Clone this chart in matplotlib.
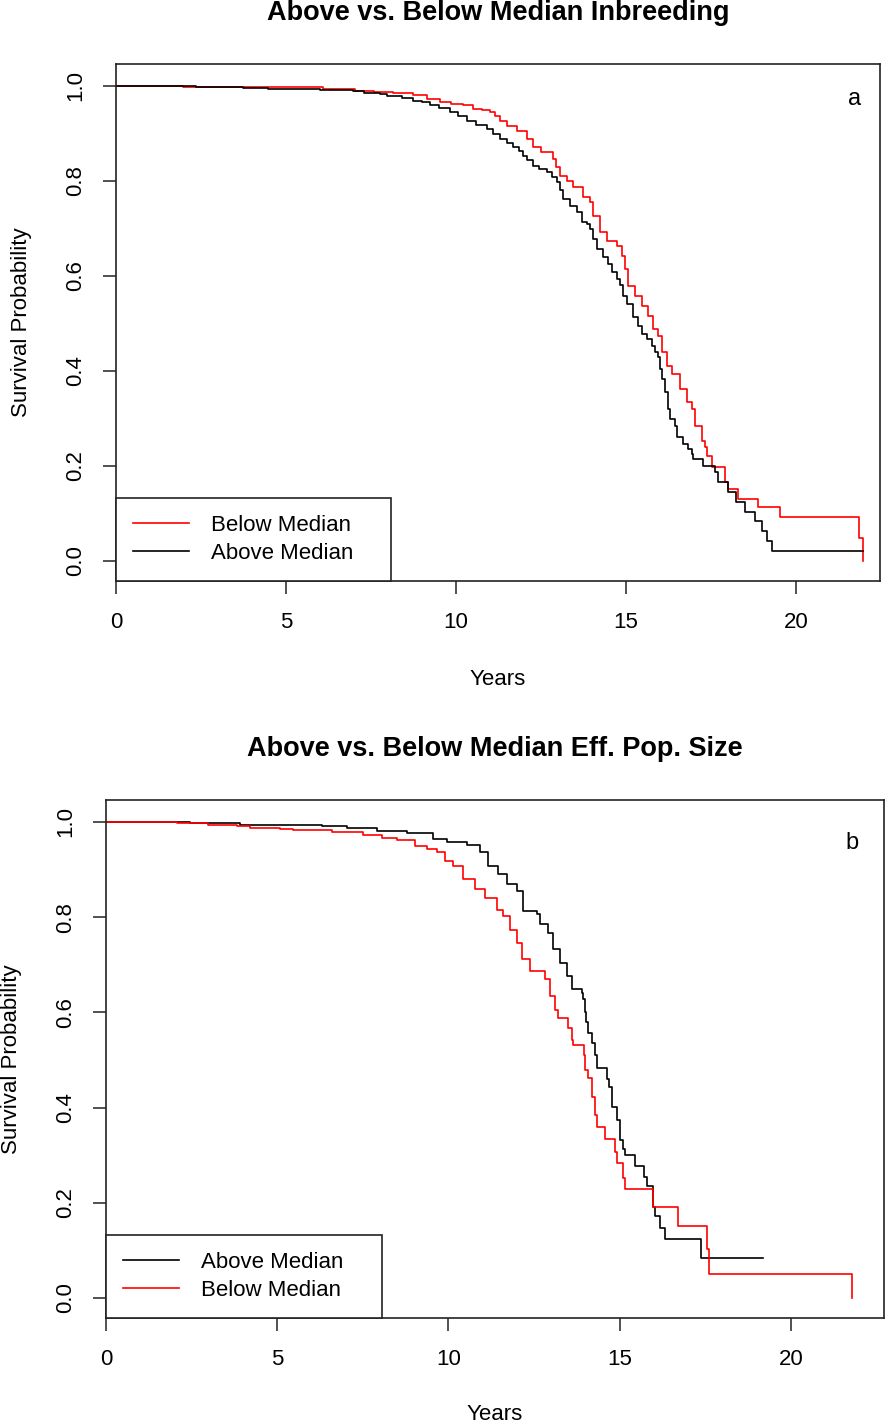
import matplotlib
matplotlib.use("Agg")
import matplotlib.pyplot as plt

plt.rcParams["font.family"] = ["Liberation Sans", "DejaVu Sans"]

# panel a: inbreeding
inb_below_t = [0, 1.97, 4.53, 6.09, 7.03, 7.6, 8.15, 8.74, 9.15, 9.53, 9.85, 10.2, 10.5,
               10.75, 11.0, 11.15, 11.29, 11.5, 11.8, 12.09, 12.26, 12.5, 12.85, 12.95,
               13.06, 13.25, 13.44, 13.74, 13.94, 14.03, 14.24, 14.44, 14.74, 14.88, 14.97,
               15.06, 15.26, 15.47, 15.65, 15.79, 15.94, 16.06, 16.21, 16.35, 16.59, 16.79,
               16.95, 17.03, 17.24, 17.33, 17.38, 17.52, 17.91, 18.01, 18.3, 18.89, 19.53,
               21.86, 21.98]
inb_below_s = [1.0, 0.998, 0.997, 0.994, 0.989, 0.987, 0.985, 0.98, 0.973, 0.966, 0.962,
               0.959, 0.952, 0.949, 0.945, 0.936, 0.927, 0.916, 0.906, 0.888, 0.871, 0.86,
               0.846, 0.83, 0.811, 0.8, 0.787, 0.766, 0.755, 0.726, 0.693, 0.674, 0.663,
               0.642, 0.615, 0.579, 0.558, 0.537, 0.516, 0.488, 0.474, 0.44, 0.411, 0.394,
               0.362, 0.335, 0.32, 0.284, 0.253, 0.24, 0.221, 0.197, 0.166, 0.152, 0.131,
               0.114, 0.093, 0.048, 0.0]

inb_above_t = [0, 2.35, 3.74, 4.47, 6.0, 6.97, 7.3, 7.75, 7.97, 8.4, 8.74, 9.0, 9.24, 9.5,
               9.82, 10.05, 10.32, 10.6, 10.91, 11.1, 11.29, 11.5, 11.68, 11.85, 11.97, 12.1,
               12.26, 12.45, 12.68, 12.82, 12.97, 13.07, 13.16, 13.35, 13.55, 13.7, 13.84,
               13.94, 14.04, 14.14, 14.33, 14.48, 14.58, 14.73, 14.82, 14.92, 15.02, 15.22,
               15.36, 15.46, 15.61, 15.76, 15.85, 15.95, 16.0, 16.05, 16.15, 16.24, 16.29,
               16.44, 16.49, 16.69, 16.83, 16.93, 16.98, 17.27, 17.62, 17.71, 18.01, 18.24,
               18.5, 18.79, 18.99, 19.14, 19.29, 21.98]
inb_above_s = [1.0, 0.998, 0.996, 0.993, 0.991, 0.989, 0.986, 0.982, 0.978, 0.974, 0.969,
               0.965, 0.959, 0.953, 0.945, 0.937, 0.926, 0.918, 0.909, 0.899, 0.888, 0.879,
               0.871, 0.862, 0.853, 0.843, 0.832, 0.826, 0.819, 0.809, 0.798, 0.78, 0.762,
               0.748, 0.734, 0.713, 0.709, 0.699, 0.678, 0.657, 0.639, 0.625, 0.608, 0.594,
               0.58, 0.558, 0.541, 0.513, 0.495, 0.478, 0.467, 0.453, 0.439, 0.429, 0.405,
               0.383, 0.355, 0.32, 0.299, 0.285, 0.26, 0.246, 0.236, 0.225, 0.215, 0.2,
               0.187, 0.166, 0.145, 0.124, 0.103, 0.085, 0.064, 0.043, 0.021, 0.021]

# panel b: effective population size
ne_above_t = [0, 2.45, 3.91, 6.3, 7.04, 7.91, 8.79, 9.55, 9.96, 10.54, 10.92, 11.15, 11.45,
              11.71, 12.0, 12.18, 12.58, 12.67, 12.9, 13.05, 13.26, 13.46, 13.61, 13.9,
              13.93, 13.99, 14.02, 14.07, 14.19, 14.28, 14.34, 14.63, 14.68, 14.77, 14.92,
              15.01, 15.1, 15.15, 15.45, 15.72, 15.79, 15.98, 16.03, 16.18, 16.32, 17.39,
              19.19]
ne_above_s = [1.0, 0.997, 0.993, 0.991, 0.987, 0.98, 0.976, 0.964, 0.957, 0.952, 0.936,
              0.908, 0.89, 0.869, 0.855, 0.813, 0.806, 0.785, 0.767, 0.732, 0.704, 0.676,
              0.648, 0.641, 0.627, 0.6, 0.58, 0.557, 0.535, 0.511, 0.483, 0.46, 0.443,
              0.401, 0.373, 0.331, 0.314, 0.3, 0.278, 0.254, 0.235, 0.192, 0.173, 0.148,
              0.124, 0.084, 0.084]

ne_below_t = [0, 2.07, 2.98, 3.82, 4.2, 5.08, 5.46, 6.6, 7.5, 8.06, 8.5, 9.02, 9.37, 9.66,
              9.9, 10.13, 10.42, 10.77, 11.07, 11.42, 11.59, 11.8, 12.0, 12.15, 12.38,
              12.82, 12.96, 13.11, 13.2, 13.49, 13.61, 13.64, 13.95, 13.99, 14.07, 14.19,
              14.28, 14.34, 14.57, 14.86, 14.92, 15.09, 15.15, 15.97, 16.7, 17.55, 17.61,
              21.78]
ne_below_s = [1.0, 0.997, 0.994, 0.991, 0.988, 0.985, 0.982, 0.978, 0.973, 0.966, 0.961,
              0.95, 0.943, 0.936, 0.918, 0.908, 0.88, 0.859, 0.841, 0.816, 0.802, 0.774,
              0.746, 0.711, 0.686, 0.669, 0.634, 0.605, 0.588, 0.567, 0.542, 0.532, 0.51,
              0.479, 0.462, 0.422, 0.384, 0.359, 0.335, 0.306, 0.283, 0.253, 0.23, 0.192,
              0.152, 0.103, 0.051, 0.0]

x_ticks = [0, 5, 10, 15, 20]
y_ticks = [0.0, 0.2, 0.4, 0.6, 0.8, 1.0]

fig = plt.figure(figsize=(8.96, 14.25), dpi=100)
ax_a = fig.add_axes([116 / 896, 1 - 581 / 1425, 764 / 896, 517 / 1425])
ax_b = fig.add_axes([106 / 896, 1 - 1318 / 1425, 778 / 896, 518 / 1425])


def style_axes(ax, title, letter, xmax, ylab_x, xlab_y, letter_x, letter_y):
    ax.set_xlim(0, xmax)
    ax.set_ylim(-0.042, 1.046)
    ax.set_xticks(x_ticks)
    ax.set_yticks(y_ticks)
    ax.set_yticklabels([f"{v:.1f}" for v in y_ticks], rotation=90, va="center")
    ax.tick_params(axis="both", length=9.4, width=1.1, labelsize=16, color="#222222")
    ax.tick_params(axis="y", pad=12)
    ax.tick_params(axis="x", pad=13)
    for sp in ax.spines.values():
        sp.set_linewidth(1.2)
        sp.set_color("#222222")
    ax.set_xlabel("Years", fontsize=16)
    ax.set_ylabel("Survival Probability", fontsize=16)
    ax.yaxis.set_label_coords(ylab_x, 0.5)
    ax.xaxis.set_label_coords(0.5, xlab_y)
    ax.text(0.5, 1.099, title, transform=ax.transAxes, ha="center", va="center",
            fontsize=19.5, fontweight="bold")
    ax.text(letter_x, letter_y, letter, transform=ax.transAxes, ha="center", va="center",
            fontsize=17)


ax_a.step(inb_below_t, inb_below_s, where="post", color="red", lw=1.2, label="Below Median")
ax_a.step(inb_above_t, inb_above_s, where="post", color="black", lw=1.2, label="Above Median")
style_axes(ax_a, "Above vs. Below Median Inbreeding", "a", 22.47, -0.11, -0.17, 0.967, 0.932)

ax_b.step(ne_above_t, ne_above_s, where="post", color="black", lw=1.2, label="Above Median")
ax_b.step(ne_below_t, ne_below_s, where="post", color="red", lw=1.2, label="Below Median")
style_axes(ax_b, "Above vs. Below Median Eff. Pop. Size", "b", 22.72, -0.108, -0.166, 0.959, 0.917)

for ax, w in ((ax_a, 275 / 764), (ax_b, 276 / 778)):
    leg = ax.legend(loc="lower left", bbox_to_anchor=(0, 0, w, 0.16), mode="expand",
                    borderaxespad=0, fontsize=16, fancybox=False, framealpha=1,
                    edgecolor="#222222", handlelength=2.5, handletextpad=1.0,
                    borderpad=0.78, labelspacing=0.3)
    leg.get_frame().set_linewidth(1.2)

fig.savefig("out.png", dpi=100)
